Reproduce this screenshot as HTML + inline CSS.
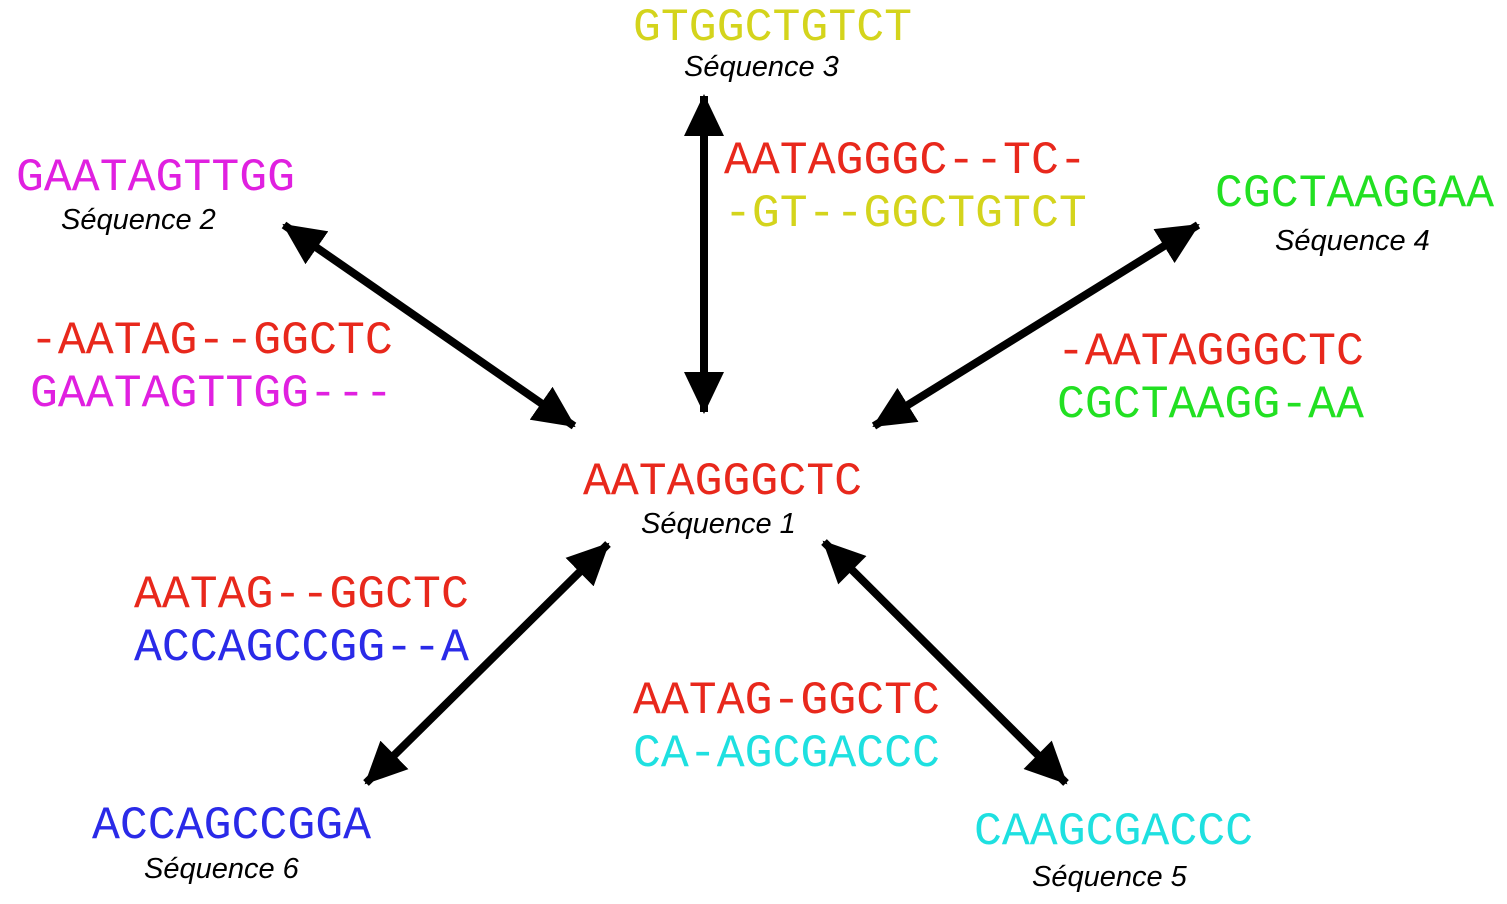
<!DOCTYPE html>
<html><head><meta charset="utf-8"><style>
html,body{margin:0;padding:0;background:#fff;}
svg{display:block;}
.m{font-family:"Liberation Mono",monospace;font-size:46.5px;}
.l{font-family:"Liberation Sans",sans-serif;font-style:italic;font-size:29px;fill:#000;}
.r{fill:#e8281c}.mg{fill:#e020e0}.y{fill:#d4d41c}.g{fill:#22e022}.c{fill:#1ee0e0}.b{fill:#2a2ae8}
</style></head><body>
<svg width="1507" height="904" viewBox="0 0 1507 904" xmlns="http://www.w3.org/2000/svg">
<defs>
<marker id="h" markerUnits="userSpaceOnUse" markerWidth="44" markerHeight="40" refX="40" refY="20" orient="auto-start-reverse">
<path d="M0,0 L42,20 L0,40 Z" fill="#000"/>
</marker>
</defs>
<g stroke="#000" stroke-width="8" fill="none">
<line x1="704" y1="96" x2="704" y2="412" marker-start="url(#h)" marker-end="url(#h)"/>
<line x1="284" y1="225" x2="574" y2="426" marker-start="url(#h)" marker-end="url(#h)"/>
<line x1="1198" y1="225" x2="874" y2="426" marker-start="url(#h)" marker-end="url(#h)"/>
<line x1="608" y1="544" x2="366" y2="783" marker-start="url(#h)" marker-end="url(#h)"/>
<line x1="824" y1="542" x2="1066" y2="783" marker-start="url(#h)" marker-end="url(#h)"/>
</g>
<text class="m y" x="633" y="40">GTGGCTGTCT</text>
<text class="l" x="684" y="76">Séquence 3</text>
<text class="m mg" x="16" y="190">GAATAGTTGG</text>
<text class="l" x="61" y="229">Séquence 2</text>
<text class="m g" x="1215" y="206">CGCTAAGGAA</text>
<text class="l" x="1275" y="250">Séquence 4</text>
<text class="m r" x="583" y="494">AATAGGGCTC</text>
<text class="l" x="641" y="533">Séquence 1</text>
<text class="m b" x="92" y="838">ACCAGCCGGA</text>
<text class="l" x="144" y="878">Séquence 6</text>
<text class="m c" x="974" y="844">CAAGCGACCC</text>
<text class="l" x="1032" y="886">Séquence 5</text>
<text class="m r" x="724" y="173">AATAGGGC--TC-</text>
<text class="m y" x="724" y="226">-GT--GGCTGTCT</text>
<text class="m r" x="30" y="353">-AATAG--GGCTC</text>
<text class="m mg" x="30" y="406">GAATAGTTGG---</text>
<text class="m r" x="1057" y="364">-AATAGGGCTC</text>
<text class="m g" x="1057" y="417">CGCTAAGG-AA</text>
<text class="m r" x="134" y="607">AATAG--GGCTC</text>
<text class="m b" x="134" y="660">ACCAGCCGG--A</text>
<text class="m r" x="633" y="713">AATAG-GGCTC</text>
<text class="m c" x="633" y="766">CA-AGCGACCC</text>
</svg>
</body></html>
